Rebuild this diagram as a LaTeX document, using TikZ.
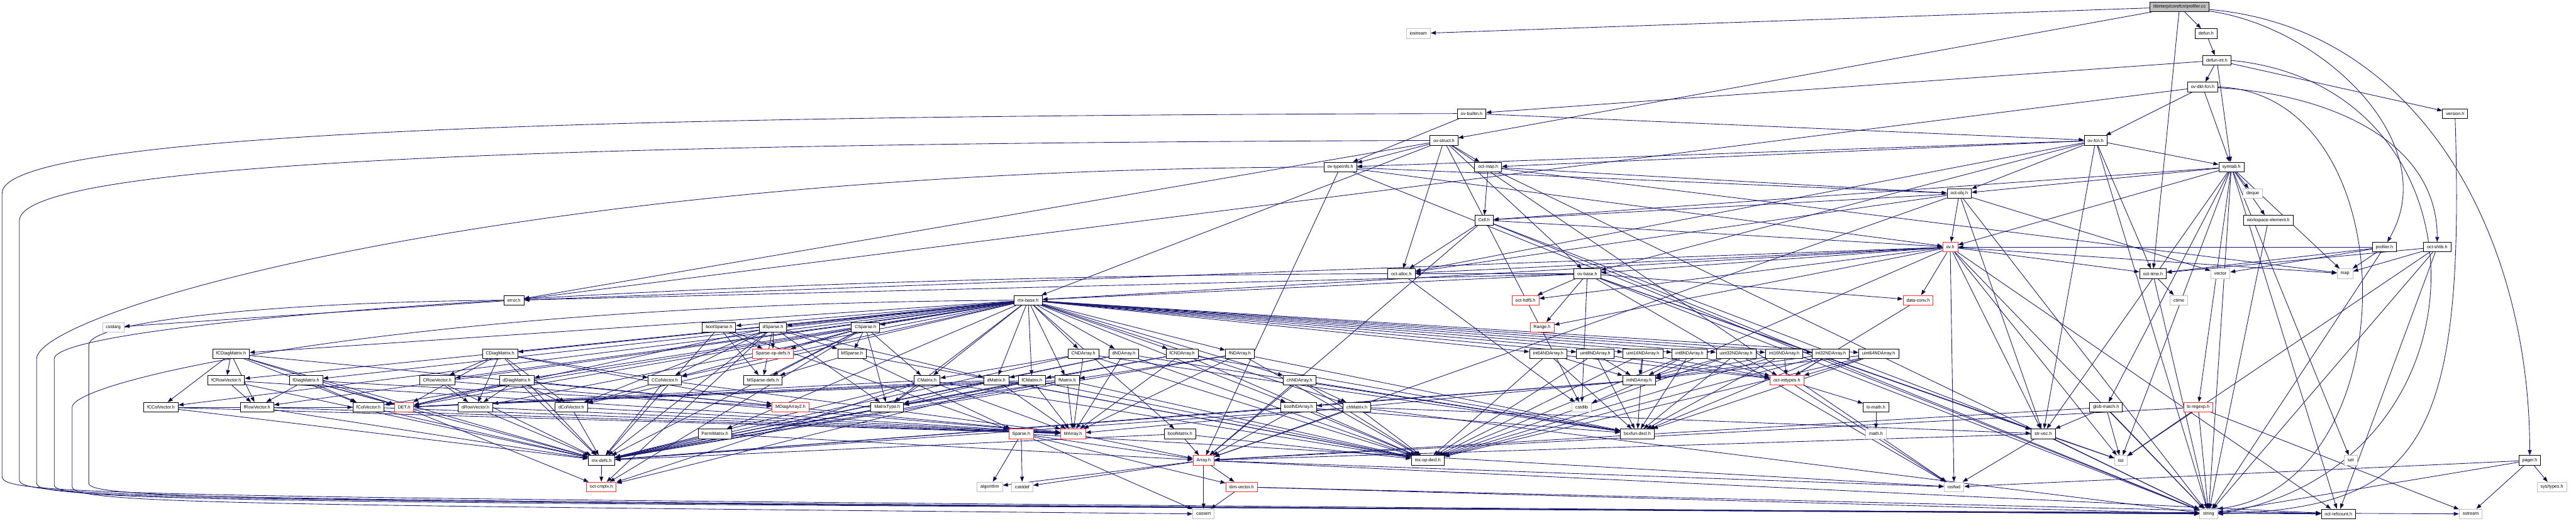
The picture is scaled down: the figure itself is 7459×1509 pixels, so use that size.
\documentclass[tikz,border=0pt]{standalone}
\usepackage{fontspec}
\setmainfont{Liberation Sans}
\usepackage{tikz}
\usetikzlibrary{arrows.meta,backgrounds}
\definecolor{edgeblue}{HTML}{191970}
\definecolor{sysgray}{HTML}{BFBFBF}
\definecolor{truncred}{HTML}{FF3030}

\tikzset{
  file/.style={draw=black, fill=white, rectangle, line width=0.4pt,
    minimum height=0.28cm, inner xsep=0.1cm, inner ysep=0pt,
    font=\fontsize{3.7pt}{4.4pt}\selectfont},
  trunc/.style={file, draw=truncred},
  sysfile/.style={file, draw=sysgray},
  root/.style={file, fill=sysgray},
  dep/.style={draw=edgeblue, line width=0.45pt, -{Triangle[length=0.15cm, width=0.11cm]}}
}

\begin{document}
\begin{tikzpicture}[x=0.01cm, y=-0.01cm]
  % Rows 0 to 9
  \node[root] (profcc) at (6311,20) {libinterp/corefcn/profiler.cc};
  \node[sysfile] (iostream) at (4107,97) {iostream};
  \node[file] (defunh) at (6388,97) {defun.h};
  \node[file] (defunint) at (6419,175) {defun-int.h};
  \node[file] (ovdld) at (6378,252) {ov-dld-fcn.h};
  \node[file] (ovbuiltin) at (4261,329) {ov-builtin.h};
  \node[file] (version) at (7109,329) {version.h};
  \node[file] (ovstruct) at (4181,407) {ov-struct.h};
  \node[file] (ovfcn) at (6068,407) {ov-fcn.h};
  \node[file] (ovtypeinfo) at (3881,484) {ov-typeinfo.h};
  \node[file] (octmap) at (4309,484) {oct-map.h};
  \node[file] (symtab) at (6461,484) {symtab.h};
  \node[file] (octobj) at (5673,561) {oct-obj.h};
  \node[sysfile] (deque) at (6523,561) {deque};
  \node[file] (cellh) at (4297,638) {Cell.h};
  \node[file] (wselem) at (6568,638) {workspace-element.h};
  \node[trunc] (ovh) at (5647,716) {ov.h};
  \node[file] (profh) at (6904,716) {profiler.h};
  \node[file] (octshlib) at (7057,716) {oct-shlib.h};

  % Rows 10 to 12
  \node[file] (octalloc) at (4058,793) {oct-alloc.h};
  \node[file] (ovbase) at (4596,793) {ov-base.h};
  \node[file] (octtime) at (6234,793) {oct-time.h};
  \node[sysfile] (vector) at (6429,793) {vector};
  \node[sysfile] (map) at (6790,793) {map};
  \node[file] (errorh) at (1488,870) {error.h};
  \node[file] (mxbase) at (2977,870) {mx-base.h};
  \node[trunc] (hdf5) at (4417,870) {oct-hdf5.h};
  \node[trunc] (dataconv) at (5554,870) {data-conv.h};
  \node[sysfile] (ctime) at (6309,870) {ctime};
  \node[sysfile] (cstdarg) at (328,948) {cstdarg};
  \node[file] (boolsp) at (2082,948) {boolSparse.h};
  \node[file] (dsp) at (2238,948) {dSparse.h};
  \node[file] (csp) at (2506,948) {CSparse.h};
  \node[trunc] (rangeh) at (4465,948) {Range.h};

  % Row 13
  \node[file] (fcdiag) at (669,1025) {fCDiagMatrix.h};
  \node[file] (cdiag) at (1448,1025) {CDiagMatrix.h};
  \node[trunc] (spopdefs) at (2238,1025) {Sparse-op-defs.h};
  \node[file] (msp) at (2467,1025) {MSparse.h};
  \node[file] (cnd) at (3137,1025) {CNDArray.h};
  \node[file] (dnd) at (3254,1025) {dNDArray.h};
  \node[file] (fcnd) at (3423,1025) {fCNDArray.h};
  \node[file] (fnd) at (3590,1025) {fNDArray.h};
  \node[file] (i64nd) at (4483,1025) {int64NDArray.h};
  \node[file] (u8nd) at (4619,1025) {uint8NDArray.h};
  \node[file] (u16nd) at (4757,1025) {uint16NDArray.h};
  \node[file] (i8nd) at (4892,1025) {int8NDArray.h};
  \node[file] (u32nd) at (5027,1025) {uint32NDArray.h};
  \node[file] (i16nd) at (5166,1025) {int16NDArray.h};
  \node[file] (i32nd) at (5301,1025) {int32NDArray.h};
  \node[file] (u64nd) at (5440,1025) {uint64NDArray.h};

  % Row 14
  \node[file] (fcrow) at (655,1102) {fCRowVector.h};
  \node[file] (fdiag) at (886,1102) {fDiagMatrix.h};
  \node[file] (crow) at (1266,1102) {CRowVector.h};
  \node[file] (ddiag) at (1496,1102) {dDiagMatrix.h};
  \node[file] (ccol) at (1925,1102) {CColVector.h};
  \node[file] (mspdefs) at (2209,1102) {MSparse-defs.h};
  \node[file] (cmat) at (2684,1102) {CMatrix.h};
  \node[file] (dmat) at (2885,1102) {dMatrix.h};
  \node[file] (fcmat) at (2988,1102) {fCMatrix.h};
  \node[file] (fmat) at (3090,1102) {fMatrix.h};
  \node[file] (chnd) at (3763,1102) {chNDArray.h};
  \node[file] (intnd) at (4746,1102) {intNDArray.h};
  \node[trunc] (inttypes) at (5174,1102) {oct-inttypes.h};

  % Row 15
  \node[file] (fccol) at (466,1180) {fCColVector.h};
  \node[file] (frow) at (744,1180) {fRowVector.h};
  \node[file] (fcol) at (1067,1180) {fColVector.h};
  \node[trunc] (det) at (1170,1180) {DET.h};
  \node[file] (drow) at (1377,1180) {dRowVector.h};
  \node[file] (dcol) at (1654,1180) {dColVector.h};
  \node[trunc] (mdiag) at (2289,1180) {MDiagArray2.h};
  \node[file] (mtype) at (2569,1180) {MatrixType.h};
  \node[file] (boolnd) at (3760,1180) {boolNDArray.h};
  \node[file] (chmat) at (3929,1180) {chMatrix.h};
  \node[sysfile] (cstdlib) at (4580,1180) {cstdlib};
  \node[file] (lomath) at (5432,1180) {lo-math.h};
  \node[file] (glob) at (6098,1180) {glob-match.h};
  \node[trunc] (lorx) at (6365,1180) {lo-regexp.h};

  % Rows 16 to 19
  \node[file] (perm) at (2070,1257) {PermMatrix.h};
  \node[trunc] (sparse) at (2957,1257) {Sparse.h};
  \node[trunc] (marray) at (3107,1257) {MArray.h};
  \node[file] (boolmat) at (3417,1257) {boolMatrix.h};
  \node[file] (bsxfun) at (4741,1257) {bsxfun-decl.h};
  \node[sysfile] (mathh) at (5432,1257) {math.h};
  \node[file] (strvec) at (5916,1257) {str-vec.h};
  \node[file] (mxdefs) at (1742,1334) {mx-defs.h};
  \node[trunc] (arrayh) at (3485,1334) {Array.h};
  \node[file] (mxop) at (4134,1334) {mx-op-decl.h};
  \node[sysfile] (list) at (6141,1334) {list};
  \node[sysfile] (set) at (6807,1334) {set};
  \node[file] (pager) at (7325,1334) {pager.h};
  \node[trunc] (cmplx) at (1741,1411) {oct-cmplx.h};
  \node[sysfile] (algorithm) at (2866,1411) {algorithm};
  \node[sysfile] (cstddef) at (2960,1411) {cstddef};
  \node[trunc] (dimvec) at (3595,1411) {dim-vector.h};
  \node[sysfile] (iosfwd) at (5658,1411) {iosfwd};
  \node[sysfile] (systypes) at (7389,1411) {sys/types.h};
  \node[sysfile] (cassert) at (3485,1489) {cassert};
  \node[sysfile] (string) at (6395,1489) {string};
  \node[file] (refcount) at (6771,1489) {oct-refcount.h};
  \node[sysfile] (sstream) at (7154,1489) {sstream};

  \begin{scope}[on background layer]
  \fill[white] (0,0) rectangle (7459,1509);

  % Top of the graph
  \draw[dep] (profcc) edge (iostream) edge (defunh) edge (ovstruct) edge (octtime);
  \draw[dep] (profcc) to[out=-8, in=60] (profh);
  \draw[dep] (profcc) to[out=-5, in=90] (pager);
  \draw[dep] (defunh) edge (defunint);
  \draw[dep] (defunint) edge (ovdld) edge (ovbuiltin) edge (symtab) edge (version);
  \draw[dep] (defunint.east) .. controls (7236,250) and (7236,1350) .. (string.east);
  \draw[dep] (ovdld) edge (ovfcn) edge (symtab) edge (errorh);
  \draw[dep] (ovdld) to[out=-3, in=90] (octshlib);
  \draw[dep] (ovdld.east) .. controls (6978,270) and (6978,1400) .. (string.north east);
  \draw[dep] (version.south) .. controls (7140,1300) and (7000,1470) .. (string.east);

  % Octave value headers
  \draw[dep] (ovbuiltin) edge (ovfcn) edge (ovtypeinfo);
  \draw[dep] (ovstruct) edge (cstdlib) edge (iosfwd) edge (mxbase) edge (errorh) edge (octalloc)
    edge (octmap) edge (ovbase) edge (ovtypeinfo);
  \draw[dep] (ovtypeinfo) edge (octobj) edge (ovh) edge (arrayh) edge (string);
  \draw[dep] (octmap) edge (cellh) edge (octobj) edge (map) edge (string);
  \draw[dep] (ovfcn) edge (octmap) edge (string) edge (octtime) edge (strvec) edge (octalloc)
    edge (octobj) edge (ovbase) edge (ovtypeinfo) edge (symtab);
  \draw[dep] (symtab) edge (deque) edge (wselem) edge (string) edge (list) edge (map) edge (set)
    edge (glob) edge (lorx) edge (strvec) edge (ovh) edge (octobj) edge (cellh) edge (refcount);
  \draw[dep] (octobj) edge (cellh) edge (string) edge (vector) edge (octalloc) edge (strvec)
    edge (arrayh) edge (ovh);
  \draw[dep] (cellh) edge (arrayh) edge (octalloc) edge (strvec) edge (ovh) edge (string);
  \draw[dep] (wselem) edge (string);
  \draw[dep] (profh) edge (map) edge (vector) edge (string) edge (octtime) edge (ovh);
  \draw[dep] (octshlib) edge (list) edge (map) edge (string) edge (octtime) edge (refcount);
  \draw[dep] (ovh) edge (cstdlib) edge (iosfwd) edge (string) edge (list) edge (map) edge (rangeh)
    edge (dataconv) edge (mxbase) edge (octalloc) edge (octtime) edge (strvec) edge (hdf5)
    edge (refcount) edge (ovbase) edge (errorh);
  \draw[dep] (ovbase) edge (cstdlib) edge (iosfwd) edge (list) edge (string) edge (rangeh)
    edge (dataconv) edge (mxbase) edge (strvec) edge (hdf5) edge (errorh) edge (octalloc);
  \draw[dep] (octalloc) edge (cstdlib);
  \draw[dep] (octtime) edge (ctime) edge (string);
  \draw[dep] (errorh) edge (cstdarg);
  \draw[dep] (dataconv) edge (inttypes);

  % Long routes round the left side
  \draw[dep] (ovbuiltin.west) .. controls (1800,335) and (6,380) .. (6,560) -- (6,1380)
    .. controls (6,1440) and (300,1440) .. (string.west);
  \draw[dep] (ovstruct.west) .. controls (1800,415) and (56,460) .. (56,640) -- (56,1390)
    .. controls (56,1445) and (400,1448) .. (string.west);
  \draw[dep] (ovtypeinfo.west) .. controls (1500,490) and (106,900) .. (106,1040) -- (106,1400)
    .. controls (106,1450) and (500,1452) .. (refcount.west);
  \draw[dep] (octalloc.west) .. controls (2000,800) and (157,930) .. (157,1040) -- (157,1405)
    .. controls (157,1455) and (600,1458) .. (sstream.west);
  \draw[dep] (mxbase.west) .. controls (1200,880) and (209,1100) .. (209,1180) -- (209,1410)
    .. controls (209,1460) and (700,1462) .. (cassert.west);
  \draw[dep] (errorh.west) .. controls (800,875) and (257,930) .. (257,1000) -- (257,1400)
    .. controls (257,1450) and (800,1455) .. (string.west);

  % mx-base fans out
  \draw[dep] (mxbase) edge (mtype) edge (boolmat) edge (chmat) edge (dmat) edge (cmat) edge (fmat)
    edge (fcmat) edge (dcol) edge (drow) edge (ccol) edge (crow) edge (fcol) edge (frow)
    edge (fccol) edge (fcrow) edge (ddiag) edge (cdiag) edge (fdiag) edge (fcdiag) edge (perm)
    edge (boolnd) edge (chnd) edge (dnd) edge (cnd) edge (fnd) edge (fcnd) edge (i8nd)
    edge (i16nd) edge (i32nd) edge (i64nd) edge (u8nd) edge (u16nd) edge (u32nd) edge (u64nd)
    edge (boolsp) edge (dsp) edge (csp);

  % Sparse types
  \draw[dep] (boolsp) edge (spopdefs) edge (mspdefs) edge (sparse) edge (mxdefs);
  \draw[dep] (dsp) edge (spopdefs) edge (msp) edge (mspdefs) edge (dcol) edge (ccol) edge (mtype)
    edge (det) edge (mxdefs) edge (cmplx) edge (dmat);
  \draw[dep] (csp) edge (msp) edge (spopdefs) edge (mspdefs) edge (ccol) edge (mtype) edge (det)
    edge (mxdefs) edge (cmplx) edge (cmat);
  \draw[dep] (msp) edge (mspdefs) edge (sparse) edge (mxop);

  % N-d arrays
  \draw[dep] (cnd) edge (marray) edge (mxdefs) edge (mxop) edge (bsxfun) edge (cmat);
  \draw[dep] (dnd) edge (marray) edge (mxdefs) edge (mxop) edge (bsxfun) edge (dmat);
  \draw[dep] (fcnd) edge (marray) edge (mxdefs) edge (mxop) edge (bsxfun) edge (fcmat);
  \draw[dep] (fnd) edge (marray) edge (mxdefs) edge (mxop) edge (bsxfun) edge (fmat);
  \draw[dep] (i64nd) edge (intnd) edge (inttypes) edge (bsxfun) edge (mxop);
  \draw[dep] (u8nd) edge (intnd) edge (inttypes) edge (bsxfun) edge (mxop);
  \draw[dep] (u16nd) edge (intnd) edge (inttypes) edge (bsxfun) edge (mxop);
  \draw[dep] (i8nd) edge (intnd) edge (inttypes) edge (bsxfun) edge (mxop);
  \draw[dep] (u32nd) edge (intnd) edge (inttypes) edge (bsxfun) edge (mxop);
  \draw[dep] (i16nd) edge (intnd) edge (inttypes) edge (bsxfun) edge (mxop);
  \draw[dep] (i32nd) edge (intnd) edge (inttypes) edge (bsxfun) edge (mxop);
  \draw[dep] (u64nd) edge (intnd) edge (inttypes) edge (bsxfun) edge (mxop);
  \draw[dep] (intnd) edge (marray) edge (boolnd) edge (mxdefs);
  \draw[dep] (chnd) edge (chmat) edge (bsxfun) edge (mxop) edge (arrayh);
  \draw[dep] (boolnd) edge (arrayh) edge (mxop) edge (bsxfun) edge (mxdefs);

  % Matrices
  \draw[dep] (chmat) edge (arrayh) edge (mxop) edge (strvec) edge (string) edge (mxdefs);
  \draw[dep] (cmat) edge (mtype) edge (det) edge (marray) edge (mxdefs) edge (mxop) edge (cmplx);
  \draw[dep] (dmat) edge (mtype) edge (det) edge (marray) edge (mxdefs) edge (mxop);
  \draw[dep] (fcmat) edge (mtype) edge (det) edge (marray) edge (mxdefs) edge (mxop) edge (cmplx);
  \draw[dep] (fmat) edge (mtype) edge (det) edge (marray) edge (mxdefs) edge (mxop);
  \draw[dep] (boolmat) edge (arrayh) edge (mxop) edge (mxdefs);
  \draw[dep] (perm) edge (arrayh) edge (mxdefs);
  \draw[dep] (mtype) edge (mxdefs);

  % Diagonal matrices and vectors
  \draw[dep] (cdiag) edge (crow) edge (ccol) edge (drow) edge (dcol) edge (det) edge (mdiag) edge (mxdefs);
  \draw[dep] (ddiag) edge (drow) edge (dcol) edge (det) edge (mdiag) edge (mxdefs);
  \draw[dep] (fcdiag) edge (fcrow) edge (fccol) edge (frow) edge (fcol) edge (det) edge (mdiag) edge (mxdefs);
  \draw[dep] (fdiag) edge (frow) edge (fcol) edge (det) edge (mdiag) edge (mxdefs);
  \draw[dep] (crow) edge (drow) edge (marray) edge (mxdefs);
  \draw[dep] (ccol) edge (dcol) edge (marray) edge (mxdefs);
  \draw[dep] (fcrow) edge (frow) edge (marray) edge (mxdefs);
  \draw[dep] (fccol) edge (fcol) edge (marray) edge (mxdefs);
  \draw[dep] (drow) edge (marray) edge (mxdefs);
  \draw[dep] (dcol) edge (marray) edge (mxdefs);
  \draw[dep] (frow) edge (marray) edge (mxdefs);
  \draw[dep] (fcol) edge (marray) edge (mxdefs);
  \draw[dep] (mdiag) edge (marray);
  \draw[dep] (det) edge (cmplx);

  % Low level headers
  \draw[dep] (marray) edge (arrayh);
  \draw[dep] (mxdefs) edge (cmplx);
  \draw[dep] (sparse) edge (algorithm) edge (cstddef) edge (cassert) edge (iosfwd) edge (arrayh) edge (dimvec);
  \draw[dep] (arrayh) edge (cassert) edge (dimvec) edge (cstddef) edge (algorithm) edge (iosfwd) edge (refcount);
  \draw[dep] (dimvec) edge (cassert) edge (refcount) edge (string);
  \draw[dep] (inttypes) edge (lomath) edge (iosfwd);
  \draw[dep] (lomath) edge (mathh);
  \draw[dep] (glob) edge (strvec) edge (string) edge (list) edge (arrayh);
  \draw[dep] (strvec) edge (iosfwd) edge (list) edge (string) edge (arrayh);
  \draw[dep] (lorx) edge (string) edge (sstream) edge (list) edge (arrayh);
  \draw[dep] (pager) edge (iosfwd) edge (sstream) edge (systypes) edge (string);
  \end{scope}

  \useasboundingbox (0,0) rectangle (7459,1509);
\end{tikzpicture}
\end{document}
